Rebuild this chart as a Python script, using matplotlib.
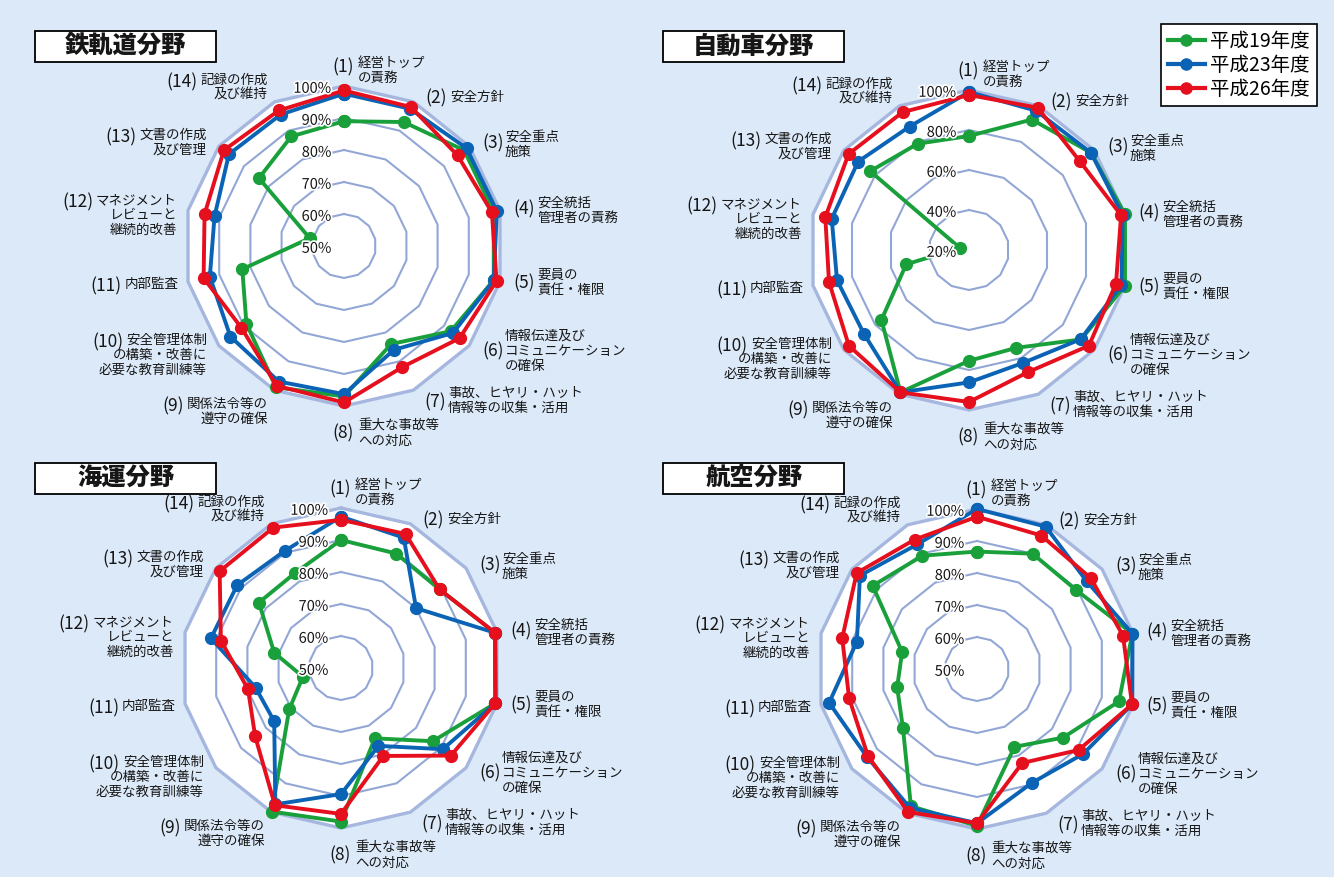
import numpy as np
import matplotlib
matplotlib.use('Agg')
import matplotlib.pyplot as plt
import matplotlib.patheffects as pe
from matplotlib.lines import Line2D
from matplotlib.patches import Rectangle

plt.rcParams['font.family'] = ['Noto Sans CJK JP', 'DejaVu Sans']

W, H = 1334, 877
R = 160  # radius of the 100% ring, pixels

YEARS = ['平成19年度', '平成23年度', '平成26年度']
COLORS = ['#19a03b', '#0b63b5', '#e50f1d']
BG = '#dce9f8'
GRID = '#92a7d5'
OUTER = '#a6b7df'
INK = '#161616'

ITEM_NUMS = ['(1)', '(2)', '(3)', '(4)', '(5)', '(6)', '(7)',
             '(8)', '(9)', '(10)', '(11)', '(12)', '(13)', '(14)']
ITEM_LINES = [
    ['経営トップ', 'の責務'],
    ['安全方針'],
    ['安全重点', '施策'],
    ['安全統括', '管理者の責務'],
    ['要員の', '責任・権限'],
    ['情報伝達及び', 'コミュニケーション', 'の確保'],
    ['事故、ヒヤリ・ハット', '情報等の収集・活用'],
    ['重大な事故等', 'への対応'],
    ['関係法令等の', '遵守の確保'],
    ['安全管理体制', 'の構築・改善に', '必要な教育訓練等'],
    ['内部監査'],
    ['マネジメント', 'レビューと', '継続的改善'],
    ['文書の作成', '及び管理'],
    ['記録の作成', '及び維持'],
]

# 鉄軌道分野
rail_h19 = [89, 93, 98, 98, 98, 92.7, 84, 97, 99, 89, 82.6, 61, 84, 88]
rail_h23 = [97.6, 97.6, 99, 99, 98, 93.6, 86, 96.3, 97, 95.4, 93, 91.5, 96, 95.6]
rail_h26 = [98.6, 98.2, 95.4, 97.4, 98.9, 96.2, 92, 98.9, 98.5, 91, 95, 94.7, 98, 97]

# 自動車分野
car_h19 = [77, 92.4, 98, 100, 100, 91.7, 74.3, 75.4, 99, 76, 52.2, 24.7, 83.2, 79]
car_h23 = [99, 97.3, 98, 98.8, 98.2, 91.5, 82.6, 86.2, 99, 87.2, 87.7, 90.4, 90.9, 88.5]
car_h26 = [97.5, 99, 91, 98, 95.4, 96.7, 87.8, 96, 99, 96.8, 91.8, 93.7, 97, 96.5]

# 海運分野
sea_h19 = [90, 89.7, 89.4, 99.4, 99.5, 86.7, 74.4, 98, 99.8, 70.7, 62.2, 71.4, 82.8, 83]
sea_h23 = [97.3, 95.2, 80, 99.4, 99.5, 90.7, 77, 89.4, 97.3, 76.7, 77.4, 91.7, 91.5, 90.6]
sea_h26 = [96.3, 96.5, 89.4, 99.4, 99.5, 93.9, 80.5, 95.6, 97.6, 84.3, 79.8, 88.5, 98.5, 98.7]

# 航空分野
air_h19 = [86.7, 90, 89.6, 99.8, 95.5, 84.4, 77, 99, 97.6, 79.6, 75.6, 74, 91.7, 89.3]
air_h23 = [100, 99.4, 93.9, 99.8, 99.7, 92.5, 89.5, 98.2, 98.2, 94, 97.4, 88.5, 96.8, 93.2]
air_h26 = [97.6, 96.3, 95.5, 96.8, 99.7, 90.6, 82.6, 98.2, 99.6, 93.6, 91, 93.2, 98.1, 94.9]

# label offsets from the chart centre (pixels, y down)
# right side: number x, text x, first line y, number y
RIGHT_POS = [(-12, 14, -183, -179), (81, 106, -149, -148), (138, 161, -109, -103),
             (169, 193, -43, -37), (169, 193, 29, 37), (138, 161, 90, 105),
             (80, 104, 147, 156), (-12, 14, 180, 187)]
# left side: right edge x, first line y
LEFT_POS = [(-76, 158), (-137, 94), (-165, 38), (-167, -46), (-137, -111), (-76, -166)]
PITCH = 15

fig = plt.figure(figsize=(W / 100, H / 100), dpi=100, facecolor=BG)
bg = fig.add_axes([0, 0, 1, 1])
bg.set_xlim(0, W)
bg.set_ylim(H, 0)
bg.axis('off')
renderer = fig.canvas.get_renderer()


def radar(cx, cy, rmin, step, series, title, tx, ty):
    ax = fig.add_axes([(cx - R) / W, (H - cy - R) / H, 2 * R / W, 2 * R / H],
                      projection='polar')
    ax.set_theta_zero_location('N')
    ax.set_theta_direction(-1)
    ax.set_ylim(rmin, 100)
    ax.patch.set_visible(False)
    ax.spines['polar'].set_visible(False)
    ax.set_xticks([])
    ax.set_yticks([])
    ax.grid(False)

    theta = np.linspace(0, 2 * np.pi, 15)
    ax.fill(theta, np.full(15, 100), color='white', zorder=1, clip_on=False)
    for v in np.arange(rmin + step, 100, step):
        ax.plot(theta, np.full(15, v), color=GRID, lw=1.5, zorder=2)
    ax.plot(theta, np.full(15, 100), color=OUTER, lw=2.4, zorder=2, clip_on=False)

    for vals, col in zip(series, COLORS):
        r = np.append(vals, vals[0])
        ax.plot(theta, r, color=col, lw=2.8, marker='o', ms=8.5, zorder=5,
                clip_on=False)

    for v in range(rmin, 101, step):
        ax.annotate(f'{v}%', xy=(0, v), xytext=(-9, -2), textcoords='offset points',
                    ha='right', va='center', fontsize=10.5, color=INK, zorder=6,
                    path_effects=[pe.withStroke(linewidth=2.5, foreground='white')])

    # item labels
    for k in range(14):
        lines = ITEM_LINES[k]
        if k < 8:
            ndx, bdx, ldy, ndy = RIGHT_POS[k]
            bg.text(cx + ndx, cy + ndy, ITEM_NUMS[k], ha='left', va='center',
                    fontsize=12.5, color=INK)
            for i, s in enumerate(lines):
                bg.text(cx + bdx, cy + ldy + PITCH * i, s, ha='left', va='center',
                        fontsize=9.7, color=INK)
        else:
            rdx, ldy = LEFT_POS[k - 8]
            first = None
            for i, s in enumerate(lines):
                t = bg.text(cx + rdx, cy + ldy + PITCH * i, s, ha='right', va='center',
                            fontsize=9.7, color=INK)
                if i == 0:
                    first = t
            w = first.get_window_extent(renderer).width
            bg.text(cx + rdx - w - 3, cy + ldy + 2, ITEM_NUMS[k], ha='right',
                    va='center', fontsize=12.5, color=INK)

    bg.add_patch(Rectangle((tx, ty), 181, 31, facecolor='white', edgecolor='black',
                           lw=1.3))
    bg.text(tx + 90.5, ty + 16, title, ha='center', va='center', fontsize=17.5,
            weight='heavy', color=INK)


radar(344, 246, 50, 10, [rail_h19, rail_h23, rail_h26], '鉄軌道分野', 35, 31)
radar(969, 250, 20, 20, [car_h19, car_h23, car_h26], '自動車分野', 663, 31)
radar(341, 668, 50, 10, [sea_h19, sea_h23, sea_h26], '海運分野', 35, 463)
radar(977, 669, 50, 10, [air_h19, air_h23, air_h26], '航空分野', 663, 463)

handles = [Line2D([], [], color=c, lw=3, marker='o', ms=8) for c in COLORS]
leg = fig.legend(handles, YEARS, loc='upper right',
                 bbox_to_anchor=(1317 / W, 1 - 24 / H), borderaxespad=0,
                 frameon=True, fancybox=False, edgecolor='black', framealpha=1,
                 fontsize=14, handlelength=1.9, handletextpad=0.3,
                 labelspacing=0.15, borderpad=0.35)
leg.get_frame().set_linewidth(1.2)

fig.savefig('out.png', dpi=100, facecolor=BG)
